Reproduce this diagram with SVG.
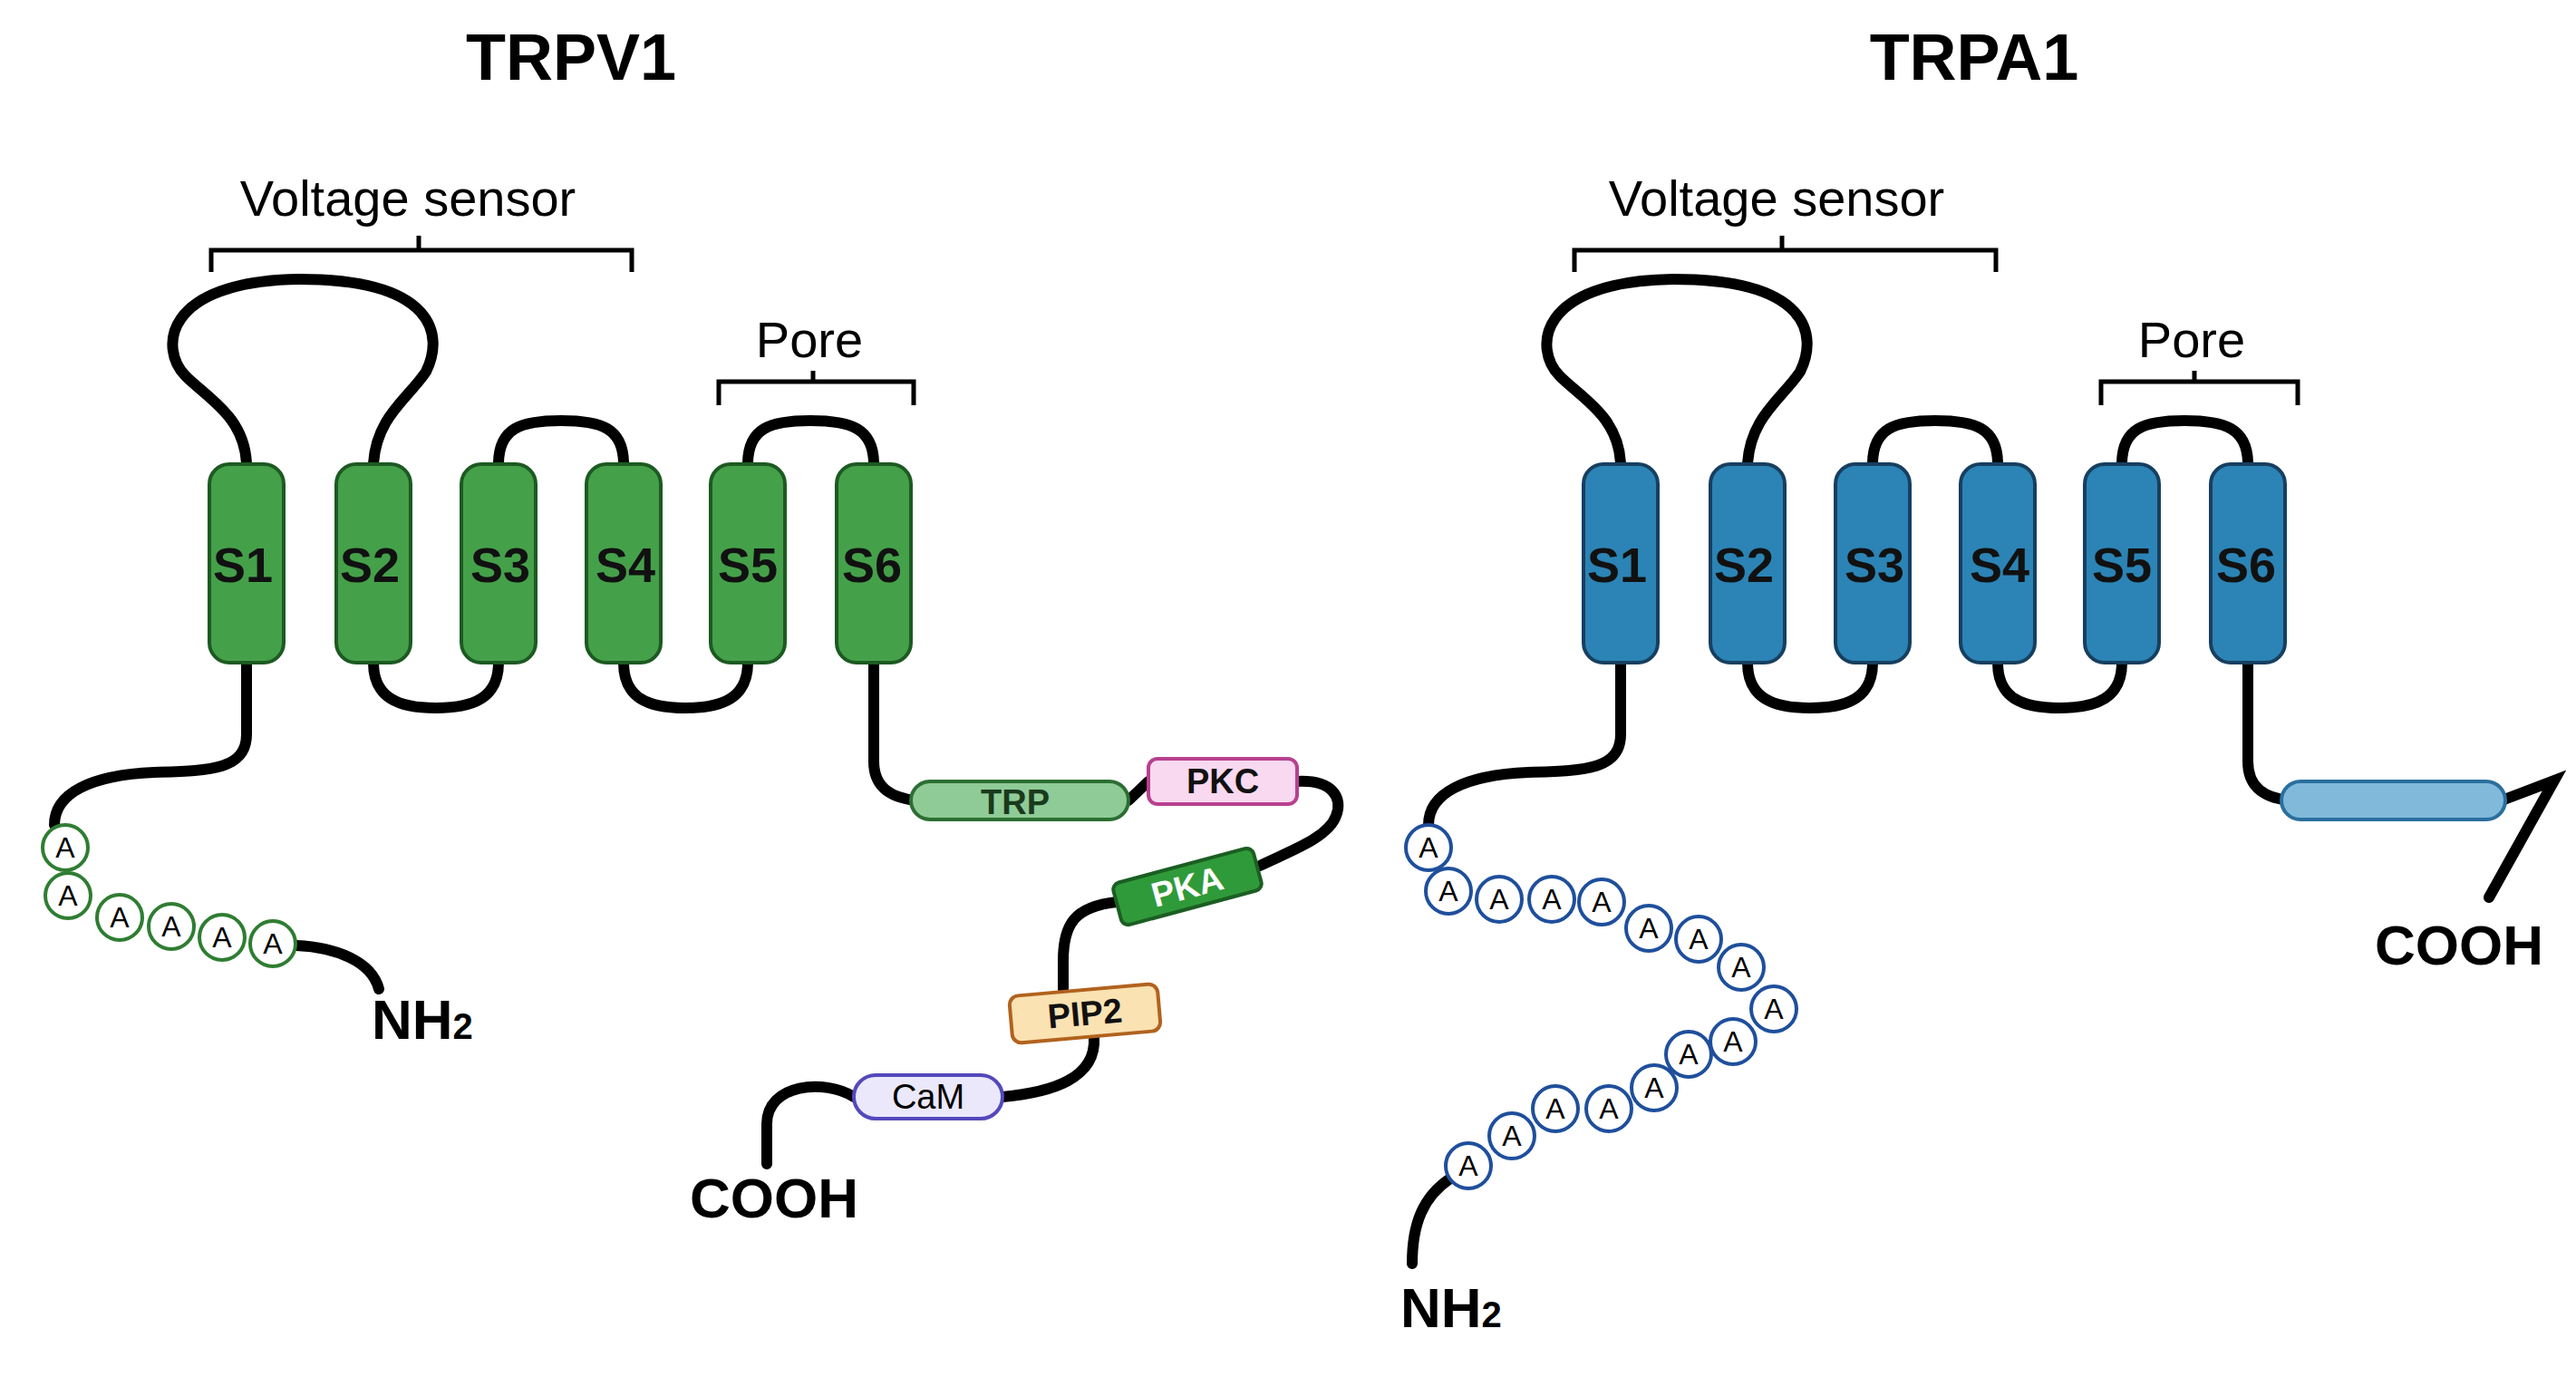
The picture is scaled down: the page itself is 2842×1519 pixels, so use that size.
<svg xmlns="http://www.w3.org/2000/svg" width="2842" height="1519" viewBox="0 0 2842 1519">
<style>
.t{font-family:"Liberation Sans",Arial,sans-serif;fill:#000}
.title{font-size:72px;font-weight:bold}
.lab{font-size:56px}
.sl{font-size:54px;text-anchor:middle;font-weight:bold;fill:#111}
.term{font-size:62px;font-weight:bold}
.chain{fill:none;stroke:#000;stroke-width:12;stroke-linecap:round}
.br{fill:none;stroke:#000;stroke-width:5}
.hg{fill:#45a04a;stroke:#1d5a22;stroke-width:4}
.hb{fill:#2b84b5;stroke:#173f60;stroke-width:4}
.bg{fill:#fff;stroke:#2f7d32;stroke-width:4}
.bb{fill:#fff;stroke:#1f4f9c;stroke-width:4}
.bt{font-family:"Liberation Sans",Arial,sans-serif;font-size:32px;text-anchor:middle;fill:#000}
.dl{font-family:"Liberation Sans",Arial,sans-serif;font-size:38px;font-weight:bold;text-anchor:middle}
</style>
<defs>
<g id="hg"><rect x="-41" y="0" width="82" height="219" rx="22" class="hg"/></g>
<g id="hb"><rect x="-41" y="0" width="82" height="219" rx="22" class="hb"/></g>
<g id="beadg"><circle r="25" class="bg"/><text class="bt" y="11">A</text></g>
<g id="beadb"><circle r="25" class="bb"/><text class="bt" y="11">A</text></g>
</defs>

<g id="connectors">
<path class="chain" d="M272,512 C270,460 230,440 205,415 C175,385 180,310 330,308 C480,308 490,370 470,410 C450,440 415,460 412,512"/>
<path class="chain" d="M550,512 C550,472 575,464 619,464 C663,464 688,472 688,512"/>
<path class="chain" d="M825,512 C825,472 850,464 894,464 C938,464 964,472 964,512"/>
<path class="chain" d="M412,731 C412,770 440,781 481,781 C522,781 550,770 550,731"/>
<path class="chain" d="M688,731 C688,770 715,781 756,781 C797,781 825,770 825,731"/>
<path class="chain" d="M272,731 L272,810 C272,850 230,850 170,852 C100,855 60,875 60,910"/>
<path class="chain" d="M327,1043 C370,1045 410,1060 418,1091"/>
<path class="chain" d="M964,731 L964,840 C964,870 985,880 1010,883"/>
<path class="chain" d="M1245,883 L1267,862"/>
<path class="chain" d="M1431,862 C1470,860 1482,880 1474,900 C1465,925 1420,940 1390,955"/>
<path class="chain" d="M1232,995 C1185,1000 1173,1020 1173,1060 L1173,1091"/>
<path class="chain" d="M1207,1144 C1210,1190 1160,1205 1106,1210"/>
<path class="chain" d="M942,1210 C910,1190 846,1195 846,1240 L846,1284"/>
<path class="chain" d="M1788,512 C1786,460 1746,440 1721,415 C1691,385 1696,310 1846,308 C1996,308 2006,370 1986,410 C1966,440 1931,460 1928,512"/>
<path class="chain" d="M2066,512 C2066,472 2091,464 2135,464 C2179,464 2204,472 2204,512"/>
<path class="chain" d="M2341,512 C2341,472 2366,464 2410,464 C2454,464 2480,472 2480,512"/>
<path class="chain" d="M1928,731 C1928,770 1956,781 1997,781 C2038,781 2066,770 2066,731"/>
<path class="chain" d="M2204,731 C2204,770 2231,781 2272,781 C2313,781 2341,770 2341,731"/>
<path class="chain" d="M1788,731 L1788,810 C1788,850 1746,850 1686,852 C1616,855 1576,875 1576,910"/>
<path class="chain" d="M1600,1300 C1570,1320 1558,1350 1558,1394"/>
<path class="chain" d="M2480,731 L2480,840 C2480,870 2500,880 2525,883"/>
<path class="chain" d="M2760,883 L2818,861 L2746,990"/>
</g>

<g id="brackets">
<path class="br" d="M233,300 V276 H697 V300 M462,276 V260"/>
<path class="br" d="M793,447 V421 H1008 V447 M897,421 V409"/>
<path class="br" d="M1737,300 V276 H2202 V300 M1966,276 V260"/>
<path class="br" d="M2318,447 V421 H2535 V447 M2421,421 V409"/>
</g>

<g id="titles">
<text class="t title" x="630" y="88" text-anchor="middle">TRPV1</text>
<text class="t title" x="2178" y="88" text-anchor="middle">TRPA1</text>
<text class="t lab" x="450" y="238" text-anchor="middle">Voltage sensor</text>
<text class="t lab" x="893" y="394" text-anchor="middle">Pore</text>
<text class="t lab" x="1960" y="238" text-anchor="middle">Voltage sensor</text>
<text class="t lab" x="2418" y="394" text-anchor="middle">Pore</text>
</g>

<g id="trpv1-helices">
<g id="v-s1"><use href="#hg" x="272" y="512"/><text class="t sl" x="268" y="642">S1</text></g>
<g id="v-s2"><use href="#hg" x="412" y="512"/><text class="t sl" x="408" y="642">S2</text></g>
<g id="v-s3"><use href="#hg" x="550" y="512"/><text class="t sl" x="552" y="642">S3</text></g>
<g id="v-s4"><use href="#hg" x="688" y="512"/><text class="t sl" x="690" y="642">S4</text></g>
<g id="v-s5"><use href="#hg" x="825" y="512"/><text class="t sl" x="825" y="642">S5</text></g>
<g id="v-s6"><use href="#hg" x="964" y="512"/><text class="t sl" x="962" y="642">S6</text></g>
</g>

<g id="trpa1-helices">
<g id="a-s1"><use href="#hb" x="1788" y="512"/><text class="t sl" x="1784" y="642">S1</text></g>
<g id="a-s2"><use href="#hb" x="1928" y="512"/><text class="t sl" x="1924" y="642">S2</text></g>
<g id="a-s3"><use href="#hb" x="2066" y="512"/><text class="t sl" x="2068" y="642">S3</text></g>
<g id="a-s4"><use href="#hb" x="2204" y="512"/><text class="t sl" x="2206" y="642">S4</text></g>
<g id="a-s5"><use href="#hb" x="2341" y="512"/><text class="t sl" x="2341" y="642">S5</text></g>
<g id="a-s6"><use href="#hb" x="2480" y="512"/><text class="t sl" x="2478" y="642">S6</text></g>
</g>

<g id="trpv1-beads">
<use href="#beadg" x="72" y="935"/><use href="#beadg" x="75" y="988"/><use href="#beadg" x="132" y="1012"/>
<use href="#beadg" x="189" y="1022"/><use href="#beadg" x="245" y="1034"/><use href="#beadg" x="301" y="1041"/>
</g>

<g id="trpa1-beads">
<use href="#beadb" x="1576" y="935"/><use href="#beadb" x="1598" y="983"/><use href="#beadb" x="1654" y="992"/>
<use href="#beadb" x="1712" y="992"/><use href="#beadb" x="1767" y="995"/><use href="#beadb" x="1819" y="1024"/>
<use href="#beadb" x="1874" y="1036"/><use href="#beadb" x="1921" y="1067"/><use href="#beadb" x="1957" y="1113"/>
<use href="#beadb" x="1912" y="1149"/><use href="#beadb" x="1863" y="1163"/><use href="#beadb" x="1825" y="1200"/>
<use href="#beadb" x="1775" y="1223"/><use href="#beadb" x="1716" y="1223"/><use href="#beadb" x="1668" y="1253"/>
<use href="#beadb" x="1620" y="1286"/>
</g>

<g id="v-trp"><rect x="1005" y="862" width="240" height="42" rx="21" fill="#8fcb97" stroke="#2c6e33" stroke-width="4"/><text class="dl" x="1120" y="898" fill="#1a3a1d">TRP</text></g>
<g id="v-pkc"><rect x="1267" y="837" width="164" height="50" rx="10" fill="#f9d9f0" stroke="#b8408f" stroke-width="4"/><text class="dl" x="1349" y="875" fill="#111">PKC</text></g>
<g id="v-pka" transform="translate(1310,978) rotate(-15)"><rect x="-80" y="-24" width="160" height="48" rx="8" fill="#2f9a39" stroke="#1b5e22" stroke-width="4"/><text class="dl" x="0" y="13" fill="#fff">PKA</text></g>
<g id="v-pip2" transform="translate(1197,1118) rotate(-5)"><rect x="-82" y="-26" width="164" height="52" rx="10" fill="#fbe2b2" stroke="#b1621e" stroke-width="4"/><text class="dl" x="0" y="13" fill="#111">PIP2</text></g>
<g id="v-cam"><rect x="942" y="1186" width="164" height="48" rx="24" fill="#ebe8fb" stroke="#5448bd" stroke-width="4"/><text class="t" x="1024" y="1223" font-size="38" text-anchor="middle">CaM</text></g>
<g id="a-ctd"><rect x="2517" y="862" width="247" height="42" rx="21" fill="#80b9da" stroke="#2a6f9e" stroke-width="4"/></g>

<g id="termini">
<text class="t term" x="410" y="1146">NH<tspan font-size="40">2</tspan></text>
<text class="t term" x="854" y="1343" text-anchor="middle">COOH</text>
<text class="t term" x="1545" y="1464">NH<tspan font-size="40">2</tspan></text>
<text class="t term" x="2713" y="1064" text-anchor="middle">COOH</text>
</g>
</svg>
